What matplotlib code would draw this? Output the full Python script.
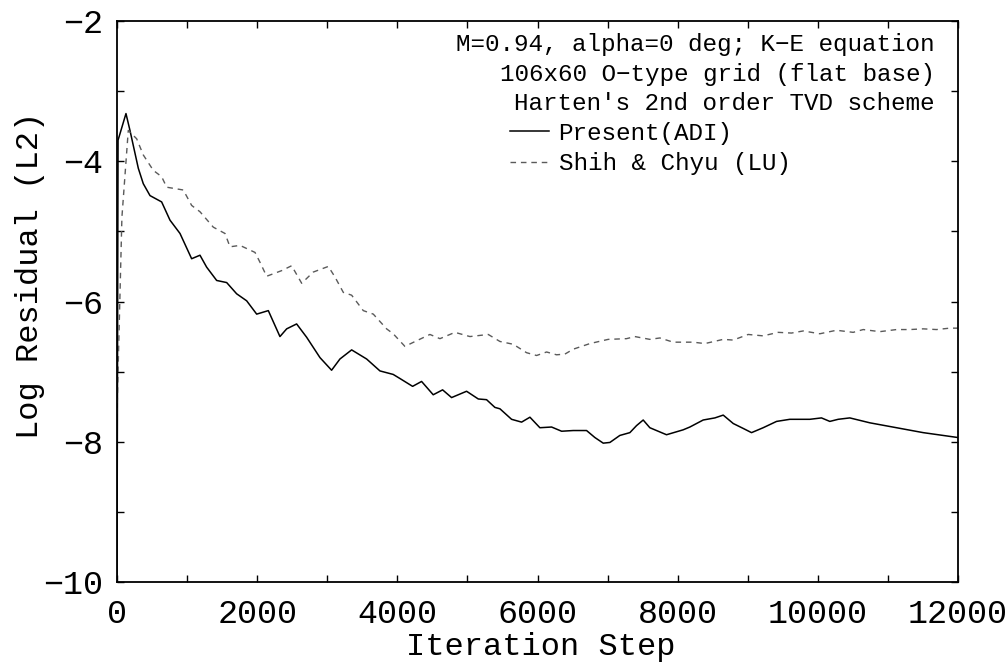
import matplotlib
matplotlib.use("Agg")
import matplotlib.pyplot as plt
from matplotlib.ticker import MultipleLocator

# ---- data ----
present_x = [0, 15, 128, 185, 304, 375, 471, 637, 756, 899,
             1065, 1184, 1279, 1422, 1565, 1707, 1850, 1993, 2159, 2325,
             2421, 2563, 2706, 2896, 3062, 3181, 3348, 3562, 3752, 3941,
             4040, 4218, 4346, 4512, 4646, 4774, 4988, 5155, 5273, 5392,
             5464, 5630, 5773, 5892, 6034, 6201, 6344, 6510, 6700, 6819,
             6938, 7033, 7175, 7318, 7413, 7508, 7603, 7698, 7841, 8078,
             8174, 8364, 8531, 8650, 8793, 8935, 9054, 9220, 9411, 9600,
             9886, 10052, 10171, 10290, 10456, 10742, 11123, 11503, 11788, 12000]
present_y = [-9.9, -3.7, -3.32, -3.56, -4.10, -4.32, -4.49, -4.58, -4.84, -5.03,
             -5.39, -5.34, -5.51, -5.70, -5.73, -5.89, -5.99, -6.18, -6.13, -6.50,
             -6.39, -6.32, -6.51, -6.80, -6.98, -6.82, -6.69, -6.82, -6.99, -7.04,
             -7.10, -7.21, -7.14, -7.33, -7.26, -7.37, -7.28, -7.39, -7.40, -7.51,
             -7.53, -7.68, -7.72, -7.65, -7.80, -7.79, -7.85, -7.84, -7.84, -7.94,
             -8.02, -8.01, -7.91, -7.87, -7.77, -7.69, -7.80, -7.84, -7.90, -7.83,
             -7.79, -7.69, -7.66, -7.62, -7.74, -7.81, -7.87, -7.80, -7.71, -7.68,
             -7.68, -7.66, -7.71, -7.68, -7.66, -7.73, -7.80, -7.87, -7.91, -7.94]

lu_x = [0, 70, 161, 281, 375, 518, 637, 709, 946, 1065,
        1184, 1374, 1541, 1612, 1755, 1969, 2040, 2135, 2349, 2492,
        2635, 2801, 3015, 3110, 3229, 3348, 3514, 3657, 3847, 3941,
        4108, 4275, 4465, 4608, 4822, 5036, 5297, 5464, 5654, 5844,
        5987, 6130, 6272, 6391, 6510, 6748, 7009, 7270, 7389, 7603,
        7746, 7936, 8221, 8388, 8650, 8793, 9006, 9220, 9434, 9624,
        9791, 10029, 10266, 10504, 10647, 10884, 11123, 11312, 11503, 11693,
        11883, 12000]
lu_y = [-7.6, -4.8, -3.56, -3.68, -3.91, -4.13, -4.22, -4.37, -4.41, -4.63,
        -4.72, -4.94, -5.03, -5.22, -5.20, -5.30, -5.44, -5.64, -5.56, -5.49,
        -5.74, -5.58, -5.50, -5.65, -5.87, -5.91, -6.13, -6.18, -6.39, -6.46,
        -6.64, -6.56, -6.47, -6.53, -6.44, -6.50, -6.47, -6.57, -6.61, -6.73,
        -6.77, -6.72, -6.76, -6.75, -6.68, -6.60, -6.54, -6.53, -6.50, -6.54,
        -6.52, -6.58, -6.58, -6.60, -6.54, -6.55, -6.47, -6.49, -6.44, -6.45,
        -6.42, -6.46, -6.41, -6.44, -6.40, -6.43, -6.40, -6.40, -6.39, -6.40,
        -6.38, -6.38]

x_ticks = [0, 2000, 4000, 6000, 8000, 10000, 12000]
y_ticks = [-10, -8, -6, -4, -2]
series_labels = ["Present(ADI)", "Shih & Chyu (LU)"]
note_lines = ["M=0.94, alpha=0 deg; K\u2212E equation",
              "106x60 O\u2212type grid (flat base)",
              "Harten's 2nd order TVD scheme"]

# ---- figure ----
plt.rcParams['font.family'] = ['Liberation Mono', 'DejaVu Sans Mono']
plt.rcParams['axes.unicode_minus'] = True

W, H = 1007, 663
fig = plt.figure(figsize=(W / 100, H / 100), dpi=100)
L, R, T, B = 117, 958, 21, 582
ax = fig.add_axes([L / W, 1 - B / H, (R - L) / W, (B - T) / H])

ax.plot(present_x, present_y, color='black', lw=1.1, label=series_labels[0])
ax.plot(lu_x, lu_y, color='#5a5a5a', lw=1.0, linestyle=(0, (4, 3.5)),
        label=series_labels[1])

ax.set_xlim(0, 12000)
ax.set_ylim(-10, -2)
ax.set_xticks(x_ticks)
ax.set_yticks(y_ticks)
ax.xaxis.set_minor_locator(MultipleLocator(1000))
ax.yaxis.set_minor_locator(MultipleLocator(1))
ax.set_xticklabels([str(v) for v in x_ticks])
ax.set_yticklabels(["\u2212" + str(-v) for v in y_ticks])

ax.tick_params(which='both', direction='in', top=True, right=True,
               length=5, width=1.0, color='black')
ax.tick_params(axis='both', which='major', labelsize=24)
ax.tick_params(axis='x', which='major', pad=12)
ax.tick_params(axis='y', which='major', pad=10)
for s in ax.spines.values():
    s.set_linewidth(1.3)

ax.set_xlabel("Iteration Step", fontsize=23, va='center')
ax.xaxis.set_label_coords((541 - L) / (R - L), (B - 647) / (B - T))
ax.set_ylabel("Log Residual (L2)", fontsize=23, va='center', ha='center')
ax.yaxis.set_label_coords((30 - L) / (R - L), (B - 275) / (B - T))

# annotation lines (right-aligned)
for i, line in enumerate(note_lines):
    fig.text(935 / W, 1 - (44 + 30 * i) / H, line, fontsize=17.5,
             ha='right', va='center')

leg = ax.legend(loc='upper left', bbox_to_anchor=(510 / W, 1 - 122 / H),
                bbox_transform=fig.transFigure, frameon=False, fontsize=17.5,
                handlelength=1.6, handletextpad=0.4, borderpad=0,
                borderaxespad=0, labelspacing=0.3)

fig.savefig("out.png", dpi=100)
